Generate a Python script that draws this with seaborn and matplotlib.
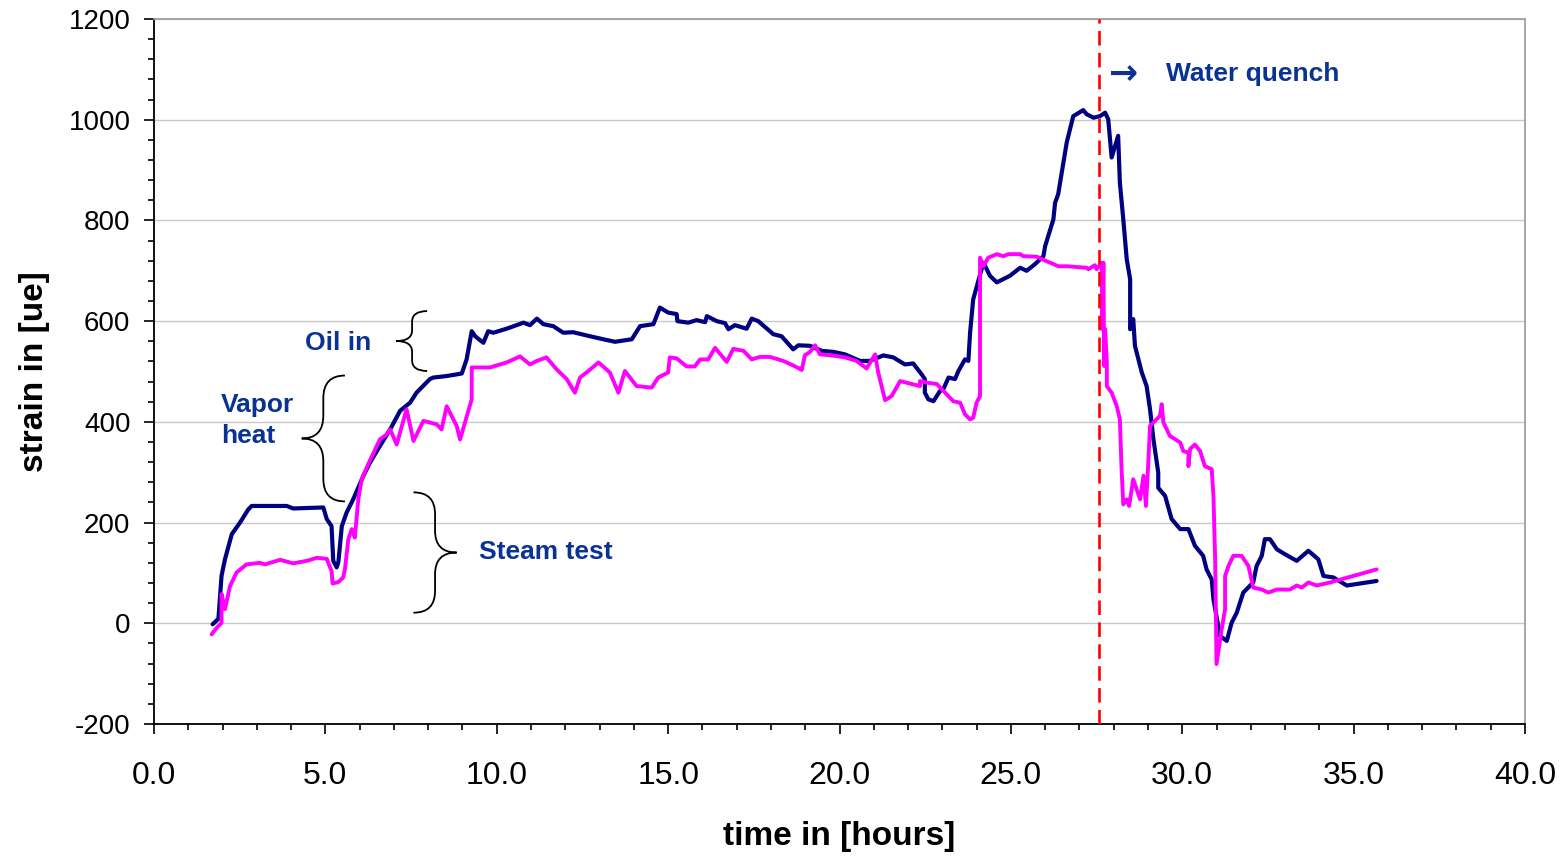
import numpy as np
import pandas as pd
import seaborn as sns
import matplotlib
matplotlib.use("Agg")
import matplotlib.pyplot as plt
from matplotlib.path import Path
from matplotlib.patches import PathPatch
from matplotlib.ticker import MultipleLocator, FormatStrFormatter

# ---- measured strain, gauge 1 (navy) ----
t_gauge1 = [1.71, 1.88, 1.97, 2.07, 2.27, 2.51, 2.75, 2.85, 3.87, 4.06, 4.94, 5.04, 5.18, 5.23,
            5.33, 5.38, 5.48, 5.62, 5.81, 6.11, 6.30, 6.59, 6.89, 7.18, 7.47, 7.66, 8.05, 8.15,
            8.54, 8.98, 9.12, 9.27, 9.37, 9.61, 9.75, 9.90, 10.29, 10.78, 10.97, 11.17, 11.36,
            11.65, 11.94, 12.23, 12.72, 13.11, 13.45, 13.94, 14.18, 14.57, 14.76, 15.00, 15.25,
            15.27, 15.59, 15.83, 16.08, 16.13, 16.42, 16.66, 16.76, 16.95, 17.29, 17.44, 17.63,
            18.07, 18.31, 18.65, 18.80, 19.14, 19.48, 19.82, 20.16, 20.60, 20.89, 21.28, 21.57,
            21.91, 22.15, 22.40, 22.49, 22.49, 22.59, 22.74, 22.93, 23.03, 23.18, 23.37, 23.47,
            23.66, 23.76, 23.81, 23.90, 24.05, 24.20, 24.39, 24.59, 24.97, 25.27, 25.46, 25.70,
            25.95, 26.00, 26.24, 26.29, 26.38, 26.63, 26.82, 27.11, 27.21, 27.41, 27.60, 27.75,
            27.84, 27.94, 28.04, 28.13, 28.18, 28.28, 28.38, 28.48, 28.48, 28.57, 28.62, 28.82,
            28.96, 29.06, 29.16, 29.30, 29.30, 29.50, 29.69, 29.94, 30.18, 30.37, 30.61, 30.71,
            30.86, 30.91, 31.10, 31.30, 31.44, 31.59, 31.78, 32.07, 32.17, 32.32, 32.41, 32.56,
            32.76, 33.00, 33.34, 33.68, 33.97, 34.12, 34.41, 34.80, 35.67]
s_gauge1 = [-2, 9, 94, 127, 177, 200, 226, 233, 233, 228, 230, 207, 193, 124,
            111, 122, 193, 220, 246, 293, 319, 352, 385, 422, 438, 458, 485, 488,
            491, 496, 524, 580, 570, 557, 580, 577, 585, 597, 592, 605, 594,
            590, 577, 578, 570, 564, 559, 564, 590, 594, 627, 617, 614,
            600, 597, 602, 598, 610, 600, 596, 584, 592, 585, 605, 600,
            574, 570, 544, 552, 551, 541, 539, 534, 521, 521, 532, 528,
            514, 516, 494, 485, 458, 445, 441, 461, 465, 488, 485, 501,
            524, 521, 577, 643, 680, 716, 690, 677, 690, 706, 700, 713,
            729, 749, 802, 835, 852, 955, 1007, 1019, 1011, 1004, 1007, 1014,
            1001, 925, 948, 968, 875, 802, 723, 683, 584, 604, 551, 498,
            471, 425, 365, 299, 269, 253, 207, 187, 187, 154, 134, 107,
            87, 48, -25, -35, 1, 21, 61, 81, 114, 134, 167, 167,
            147, 137, 124, 144, 127, 94, 91, 75, 84]

# ---- measured strain, gauge 2 (magenta) ----
t_gauge2 = [1.68, 1.83, 1.97, 1.97, 2.07, 2.22, 2.41, 2.70, 3.09, 3.24, 3.68, 4.06, 4.46, 4.75,
            5.04, 5.18, 5.21, 5.38, 5.52, 5.57, 5.67, 5.77, 5.86, 5.96, 6.06, 6.25, 6.59, 6.79,
            6.89, 7.08, 7.37, 7.57, 7.86, 8.25, 8.39, 8.54, 8.83, 8.93, 9.27, 9.27, 9.80, 10.29,
            10.68, 10.97, 11.17, 11.45, 11.75, 12.04, 12.28, 12.43, 12.62, 12.97, 13.30, 13.55,
            13.74, 14.08, 14.52, 14.71, 15.00, 15.05, 15.25, 15.54, 15.78, 15.93, 16.17, 16.37,
            16.71, 16.90, 17.20, 17.44, 17.68, 17.97, 18.36, 18.65, 18.90, 18.99, 19.14, 19.29,
            19.43, 19.77, 20.16, 20.50, 20.79, 21.04, 21.13, 21.33, 21.52, 21.77, 22.35, 22.35,
            22.54, 22.84, 23.32, 23.52, 23.66, 23.81, 23.90, 24.00, 24.10, 24.10, 24.20, 24.34,
            24.59, 24.78, 24.93, 25.27, 25.36, 25.75, 26.04, 26.19, 26.38, 26.63, 27.21, 27.26,
            27.45, 27.50, 27.65, 27.67, 27.70, 27.72, 27.75, 27.80, 27.80, 27.94, 28.09, 28.18,
            28.23, 28.28, 28.38, 28.45, 28.57, 28.77, 28.87, 28.94, 29.01, 29.06, 29.35, 29.40,
            29.45, 29.64, 29.94, 30.03, 30.18, 30.18, 30.23, 30.37, 30.52, 30.66, 30.86, 30.91,
            30.96, 31.00, 31.15, 31.25, 31.25, 31.35, 31.49, 31.73, 31.93, 32.07, 32.32, 32.51,
            32.76, 33.14, 33.34, 33.49, 33.68, 33.92, 34.31, 35.67]
s_gauge2 = [-22, -9, 1, 58, 28, 74, 101, 117, 120, 117, 126, 119, 124, 130,
            128, 104, 79, 82, 91, 107, 167, 187, 170, 246, 286, 316, 365, 375,
            385, 355, 425, 362, 402, 395, 385, 431, 392, 365, 445, 508, 508, 518,
            530, 514, 521, 528, 504, 485, 458, 488, 498, 518, 498, 458,
            501, 471, 468, 488, 498, 528, 526, 510, 510, 524, 524, 547,
            519, 545, 541, 524, 529, 529, 521, 512, 503, 532, 539, 552,
            534, 532, 528, 521, 506, 534, 498, 443, 451, 481, 471, 481,
            478, 475, 441, 438, 415, 405, 408, 438, 451, 726, 709, 726,
            733, 729, 733, 733, 729, 728, 719, 715, 709, 709, 706, 703,
            711, 703, 716, 584, 716, 511, 584, 518, 471, 458, 431, 405,
            306, 236, 246, 233, 286, 246, 293, 233, 319, 392, 412, 435,
            399, 372, 359, 342, 339, 312, 346, 355, 342, 312, 306, 253,
            127, -81, -12, 28, 94, 114, 134, 134, 114, 71, 67, 61,
            67, 67, 75, 71, 81, 75, 81, 107]

quench_time = 27.57

df1 = pd.DataFrame({"time": t_gauge1, "strain": s_gauge1})
df2 = pd.DataFrame({"time": t_gauge2, "strain": s_gauge2})

sns.set_theme(style="white")
plt.rcParams["font.family"] = ["Liberation Sans", "DejaVu Sans"]
plt.rcParams["axes.unicode_minus"] = False

fig = plt.figure(figsize=(15.66, 8.56), dpi=100)
ax = fig.add_axes([154 / 1566, 1 - 724 / 856, (1525 - 154) / 1566, (724 - 19) / 856])

sns.lineplot(data=df1, x="time", y="strain", ax=ax, color="#000080", lw=3.0,
             sort=False, estimator=None, zorder=3)
sns.lineplot(data=df2, x="time", y="strain", ax=ax, color="#FF00FF", lw=2.8,
             sort=False, estimator=None, zorder=4)

ax.axvline(quench_time, color="#FF0000", lw=1.9, linestyle=(0, (5.5, 2.8)), zorder=5)

ax.set_xlim(0, 40)
ax.set_ylim(-200, 1200)
ax.xaxis.set_major_locator(MultipleLocator(5))
ax.xaxis.set_minor_locator(MultipleLocator(1))
ax.yaxis.set_major_locator(MultipleLocator(200))
ax.yaxis.set_minor_locator(MultipleLocator(40))
ax.xaxis.set_major_formatter(FormatStrFormatter("%.1f"))
ax.tick_params(axis="both", which="major", direction="out", length=7, width=1.2,
               color="black", bottom=True, left=True)
ax.tick_params(axis="both", which="minor", direction="out", length=4, width=1.2,
               color="black", bottom=True, left=True)
ax.tick_params(axis="x", which="major", labelsize=23, pad=20)
ax.tick_params(axis="y", which="major", labelsize=20, pad=10)
for lbl in ax.get_xticklabels() + ax.get_yticklabels():
    lbl.set_color("black")

ax.grid(axis="y", which="major", color="#C8C8C8", lw=1.0)
ax.set_axisbelow(True)
for side in ("left", "bottom"):
    ax.spines[side].set_color("black")
    ax.spines[side].set_linewidth(1.3)
for side in ("top", "right"):
    ax.spines[side].set_color("#A0A0A0")
    ax.spines[side].set_linewidth(1.3)

ax.set_xlabel("time in [hours]", fontsize=24, fontweight="bold", labelpad=21, color="black")
ax.set_ylabel("strain in [ue]", fontsize=24, fontweight="bold", labelpad=13, color="black")


def brace(ax, x_end, x_spine, x_tip, y_top, y_bot):
    """Vertical curly brace; the tip points toward x_tip."""
    ym = (y_top + y_bot) / 2
    r = 0.18 * (y_top - y_bot)
    verts = [
        (x_end, y_top),
        (x_spine, y_top), (x_spine, y_top - r),
        (x_spine, ym + r),
        (x_spine, ym), (x_tip, ym),
        (x_spine, ym), (x_spine, ym - r),
        (x_spine, y_bot + r),
        (x_spine, y_bot), (x_end, y_bot),
    ]
    codes = [Path.MOVETO, Path.CURVE3, Path.CURVE3, Path.LINETO,
             Path.CURVE3, Path.CURVE3, Path.CURVE3, Path.CURVE3,
             Path.LINETO, Path.CURVE3, Path.CURVE3]
    ax.add_patch(PathPatch(Path(verts, codes), fill=False, lw=1.3,
                           edgecolor="black", zorder=6))


brace(ax, 7.97, 7.53, 7.06, 620, 501)      # Oil in
brace(ax, 5.57, 4.94, 4.31, 492, 242)      # Vapor heat
brace(ax, 7.57, 8.20, 8.83, 260, 21)       # Steam test

txt_color = "#0A3294"
ax.text(5.37, 556, "Oil in", fontsize=19, fontweight="bold", color=txt_color,
        ha="center", va="center")
ax.text(1.95, 403, "Vapor\nheat", fontsize=19, fontweight="bold", color=txt_color,
        ha="left", va="center", linespacing=1.35)
ax.text(9.48, 141, "Steam test", fontsize=19, fontweight="bold", color=txt_color,
        ha="left", va="center")
ax.text(28.27, 1091, "\u2192", fontsize=25, fontweight="bold", color=txt_color,
        ha="center", va="center", family=["DejaVu Sans"])
ax.text(29.53, 1091, "Water quench", fontsize=19, fontweight="bold", color=txt_color,
        ha="left", va="center")

fig.savefig("out.png", dpi=100)
